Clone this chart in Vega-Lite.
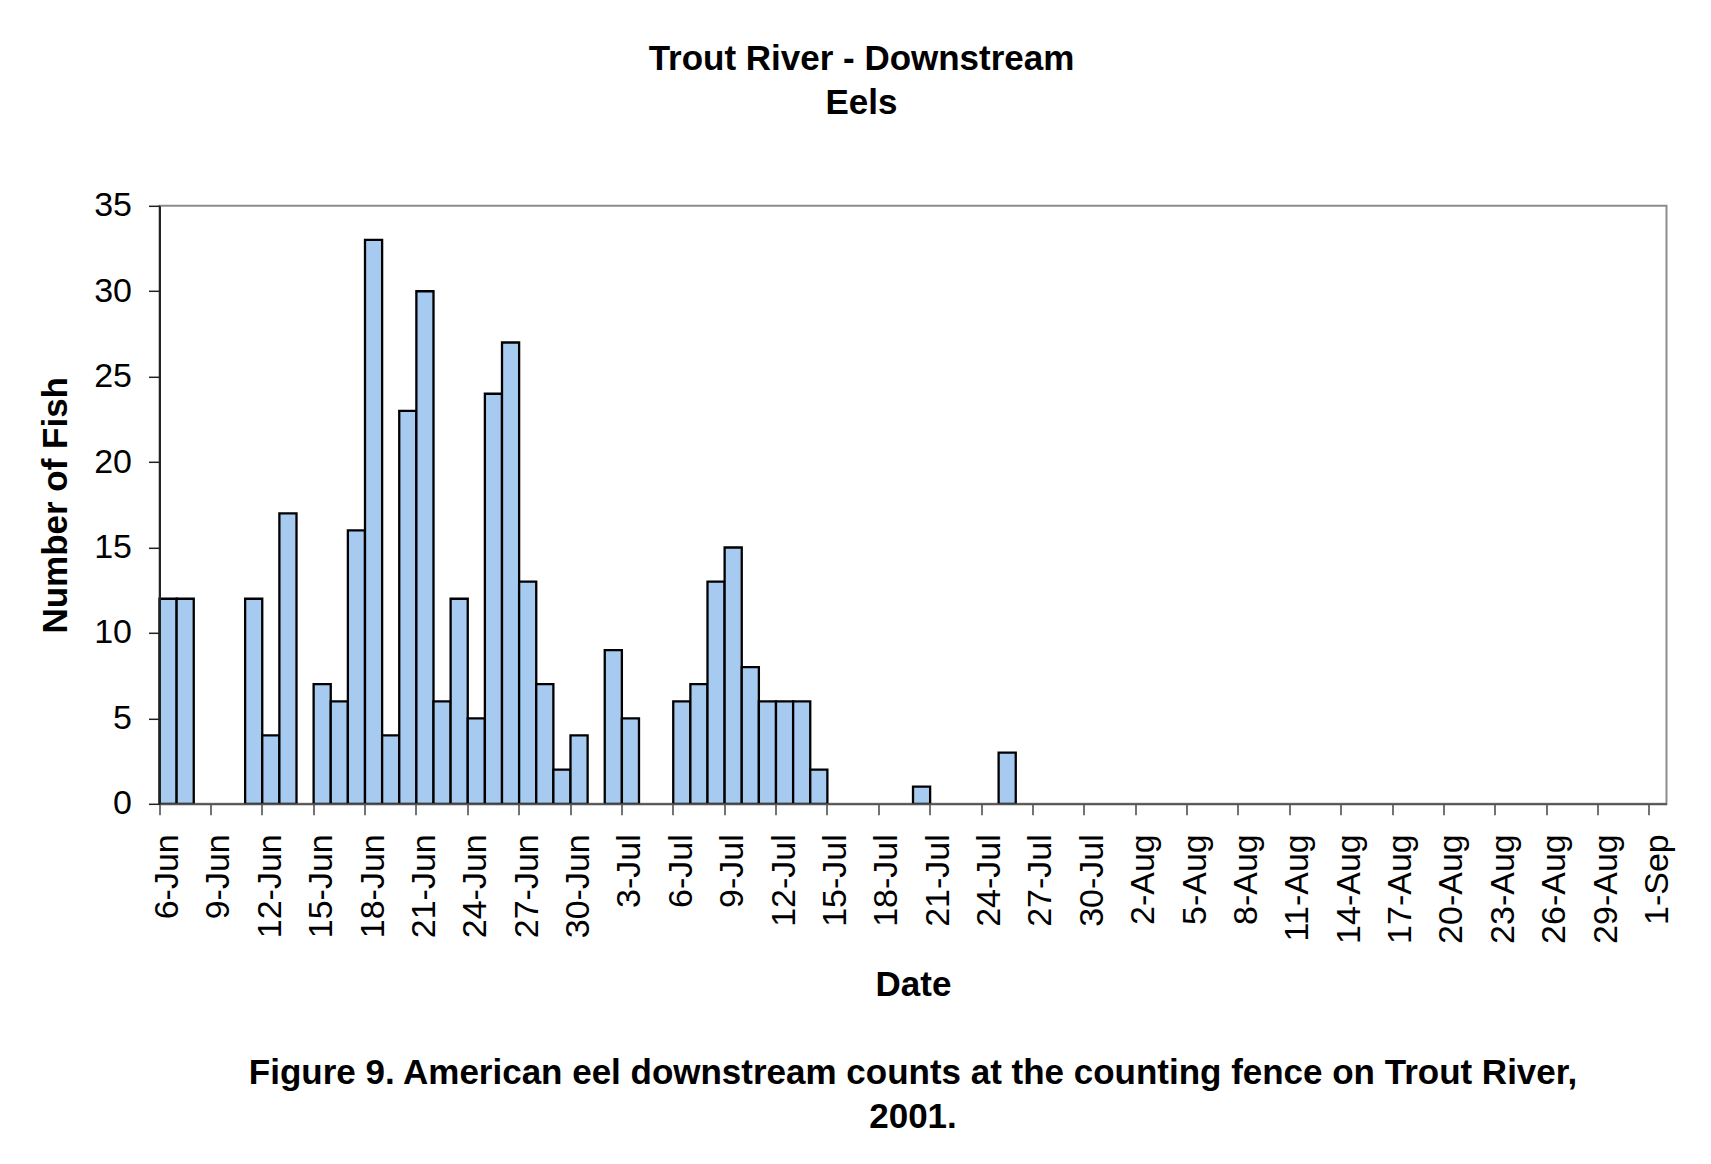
{
  "$schema": "https://vega.github.io/schema/vega-lite/v6.json",
  "padding": {"left": 37.5, "top": 41.8, "right": 44.5, "bottom": 20},
  "background": "white",
  "title": {
    "text": ["Trout River - Downstream", "Eels"],
    "fontSize": 35,
    "fontWeight": "bold",
    "font": "Liberation Sans",
    "color": "black",
    "lineHeight": 43.5,
    "anchor": "middle",
    "frame": "group",
    "dx": -51.5,
    "offset": 67
  },
  "vconcat": [
    {
      "width": 1507,
      "height": 598,
      "title": {
        "text": ["Figure 9. American eel downstream counts at the counting fence on Trout River,", "2001."],
        "orient": "bottom",
        "fontSize": 35,
        "fontWeight": "bold",
        "font": "Liberation Sans",
        "color": "black",
        "lineHeight": 44,
        "anchor": "middle",
        "frame": "group",
        "offset": 54
      },
      "data": {
        "values": [
          {"day": "6-Jun", "count": 12}, {"day": "7-Jun", "count": 12}, {"day": "8-Jun", "count": 0},
          {"day": "9-Jun", "count": 0}, {"day": "10-Jun", "count": 0}, {"day": "11-Jun", "count": 12},
          {"day": "12-Jun", "count": 4}, {"day": "13-Jun", "count": 17}, {"day": "14-Jun", "count": 0},
          {"day": "15-Jun", "count": 7}, {"day": "16-Jun", "count": 6}, {"day": "17-Jun", "count": 16},
          {"day": "18-Jun", "count": 33}, {"day": "19-Jun", "count": 4}, {"day": "20-Jun", "count": 23},
          {"day": "21-Jun", "count": 30}, {"day": "22-Jun", "count": 6}, {"day": "23-Jun", "count": 12},
          {"day": "24-Jun", "count": 5}, {"day": "25-Jun", "count": 24}, {"day": "26-Jun", "count": 27},
          {"day": "27-Jun", "count": 13}, {"day": "28-Jun", "count": 7}, {"day": "29-Jun", "count": 2},
          {"day": "30-Jun", "count": 4},
          {"day": "1-Jul", "count": 0}, {"day": "2-Jul", "count": 9}, {"day": "3-Jul", "count": 5},
          {"day": "4-Jul", "count": 0}, {"day": "5-Jul", "count": 0}, {"day": "6-Jul", "count": 6},
          {"day": "7-Jul", "count": 7}, {"day": "8-Jul", "count": 13}, {"day": "9-Jul", "count": 15},
          {"day": "10-Jul", "count": 8}, {"day": "11-Jul", "count": 6}, {"day": "12-Jul", "count": 6},
          {"day": "13-Jul", "count": 6}, {"day": "14-Jul", "count": 2}, {"day": "15-Jul", "count": 0},
          {"day": "16-Jul", "count": 0}, {"day": "17-Jul", "count": 0}, {"day": "18-Jul", "count": 0},
          {"day": "19-Jul", "count": 0}, {"day": "20-Jul", "count": 1}, {"day": "21-Jul", "count": 0},
          {"day": "22-Jul", "count": 0}, {"day": "23-Jul", "count": 0}, {"day": "24-Jul", "count": 0},
          {"day": "25-Jul", "count": 3}, {"day": "26-Jul", "count": 0}, {"day": "27-Jul", "count": 0},
          {"day": "28-Jul", "count": 0}, {"day": "29-Jul", "count": 0}, {"day": "30-Jul", "count": 0},
          {"day": "31-Jul", "count": 0},
          {"day": "1-Aug", "count": 0}, {"day": "2-Aug", "count": 0}, {"day": "3-Aug", "count": 0},
          {"day": "4-Aug", "count": 0}, {"day": "5-Aug", "count": 0}, {"day": "6-Aug", "count": 0},
          {"day": "7-Aug", "count": 0}, {"day": "8-Aug", "count": 0}, {"day": "9-Aug", "count": 0},
          {"day": "10-Aug", "count": 0}, {"day": "11-Aug", "count": 0}, {"day": "12-Aug", "count": 0},
          {"day": "13-Aug", "count": 0}, {"day": "14-Aug", "count": 0}, {"day": "15-Aug", "count": 0},
          {"day": "16-Aug", "count": 0}, {"day": "17-Aug", "count": 0}, {"day": "18-Aug", "count": 0},
          {"day": "19-Aug", "count": 0}, {"day": "20-Aug", "count": 0}, {"day": "21-Aug", "count": 0},
          {"day": "22-Aug", "count": 0}, {"day": "23-Aug", "count": 0}, {"day": "24-Aug", "count": 0},
          {"day": "25-Aug", "count": 0}, {"day": "26-Aug", "count": 0}, {"day": "27-Aug", "count": 0},
          {"day": "28-Aug", "count": 0}, {"day": "29-Aug", "count": 0}, {"day": "30-Aug", "count": 0},
          {"day": "31-Aug", "count": 0},
          {"day": "1-Sep", "count": 0}
        ]
      },
      "mark": {
        "type": "bar",
        "fill": "#A6CAF0",
        "stroke": "black",
        "strokeWidth": 2.3
      },
      "encoding": {
        "x": {
          "field": "day",
          "type": "ordinal",
          "sort": null,
          "scale": {"paddingInner": 0, "paddingOuter": 0},
          "axis": {
            "values": ["6-Jun", "9-Jun", "12-Jun", "15-Jun", "18-Jun", "21-Jun", "24-Jun", "27-Jun", "30-Jun",
                       "3-Jul", "6-Jul", "9-Jul", "12-Jul", "15-Jul", "18-Jul", "21-Jul", "24-Jul", "27-Jul", "30-Jul",
                       "2-Aug", "5-Aug", "8-Aug", "11-Aug", "14-Aug", "17-Aug", "20-Aug", "23-Aug", "26-Aug", "29-Aug",
                       "1-Sep"],
            "bandPosition": 0,
            "labelAngle": -90,
            "labelOffset": 0,
            "labelFontSize": 34,
            "labelPadding": 19,
            "tickSize": 11,
            "tickColor": "#444444",
            "tickWidth": 1.5,
            "domainColor": "#555555",
            "domainWidth": 2,
            "title": "Date",
            "titleFontSize": 35,
            "titleFontWeight": "bold",
            "titlePadding": 24,
            "zindex": 1
          }
        },
        "y": {
          "field": "count",
          "type": "quantitative",
          "scale": {"domain": [0, 35], "nice": false},
          "axis": {
            "values": [0, 5, 10, 15, 20, 25, 30, 35],
            "grid": false,
            "labelFontSize": 34,
            "labelPadding": 17,
            "tickSize": 11,
            "tickColor": "#222222",
            "tickWidth": 1.5,
            "domainColor": "#222222",
            "domainWidth": 2,
            "title": "Number of Fish",
            "titleFontSize": 35,
            "titleFontWeight": "bold",
            "titlePadding": 20,
            "zindex": 1
          }
        },
        "strokeOpacity": {
          "condition": {"test": "datum.count === 0", "value": 0},
          "value": 1
        }
      }
    }
  ],
  "config": {
    "font": "Liberation Sans",
    "view": {"stroke": "#8c8c8c", "strokeWidth": 2},
    "axis": {"labelColor": "black", "titleColor": "black", "labelFont": "Liberation Sans", "titleFont": "Liberation Sans"}
  }
}
